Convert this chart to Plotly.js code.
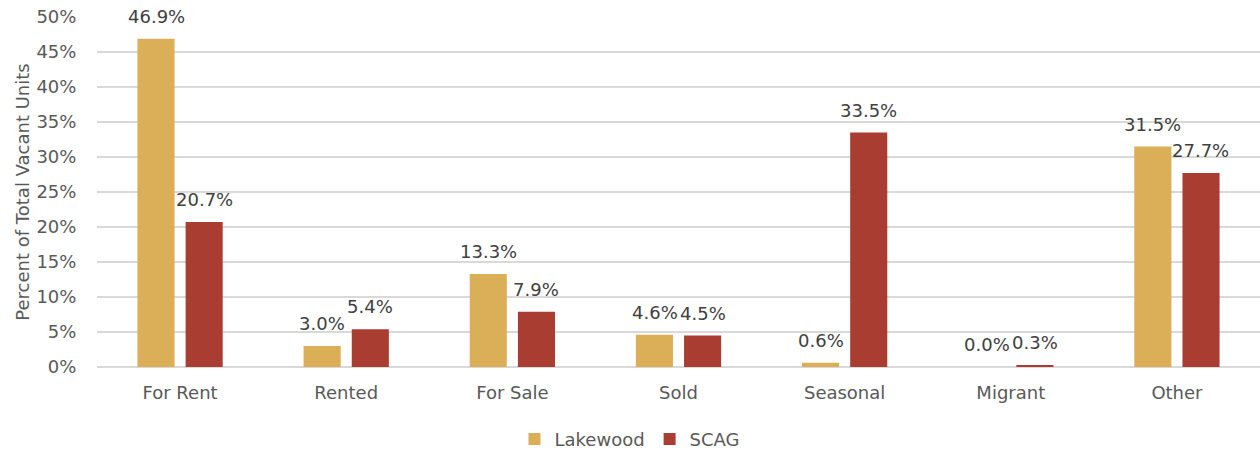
<!DOCTYPE html>
<html><head><meta charset="utf-8">
<script src="https://cdn.plot.ly/plotly-3.0.1.min.js"></script>
<style>html,body{margin:0;padding:0;background:#fff}#chart{width:1260px;height:453px}</style>
</head><body><div id="chart"></div>
<script>
const categories = ["For Rent","Rented","For Sale","Sold","Seasonal","Migrant","Other"];
const lakewood = [46.9, 3.0, 13.3, 4.6, 0.6, 0.0, 31.5];
const scag = [20.7, 5.4, 7.9, 4.5, 33.5, 0.3, 27.7];
const yTicks = [0,5,10,15,20,25,30,35,40,45,50];
const yTickText = yTicks.map(v => v + "%");

const font = "DejaVu Sans, sans-serif";
function mk(name, vals, color){
  return {type:"bar", name:name, x:categories, y:vals,
    marker:{color:color}, hoverinfo:"skip"};
}
const data = [mk("Lakewood", lakewood, "#DBAE58"), mk("SCAG", scag, "#A93D32")];

const annotations = [];
[[lakewood,-24],[scag,24]].forEach(([vals, dx]) => {
  vals.forEach((v, i) => annotations.push({
    x: categories[i], y: v, xref:"x", yref:"y", text: v.toFixed(1) + "%",
    showarrow:false, xanchor:"center", yanchor:"bottom", xshift:dx, yshift:10,
    font:{family:font, size:18, color:"#404040"}
  }));
});

const layout = {
  width:1260, height:453,
  margin:{l:97, r:0, t:17, b:86, autoexpand:false},
  paper_bgcolor:"#fff", plot_bgcolor:"#fff",
  barmode:"group", bargap:0.42, bargroupgap:0.23,
  font:{family:font, color:"#595959", size:18},
  annotations: annotations,
  xaxis:{showgrid:false, zeroline:false, showline:false,
    tickfont:{size:18, color:"#595959"}, ticks:"outside", ticklen:9, tickcolor:"rgba(0,0,0,0)"},
  yaxis:{range:[0,50], tickvals:yTicks, ticktext:yTickText,
    gridcolor:"#D9D9D9", gridwidth:1.5, zeroline:true, zerolinecolor:"#D9D9D9", zerolinewidth:1.5,
    showline:false, tickfont:{size:18, color:"#595959"},
    ticks:"outside", ticklen:16, tickcolor:"rgba(0,0,0,0)",
    title:{text:"Percent of Total Vacant Units", font:{size:18, color:"#595959"}, standoff:2}},
  showlegend:true,
  legend:{orientation:"h", xref:"container", yref:"container", x:0.5, xanchor:"center", y:0.03, yanchor:"middle",
    font:{size:18, color:"#595959"}, itemwidth:30, traceorder:"normal"}
};
Plotly.newPlot("chart", data, layout, {displayModeBar:false, staticPlot:true});
</script></body></html>
